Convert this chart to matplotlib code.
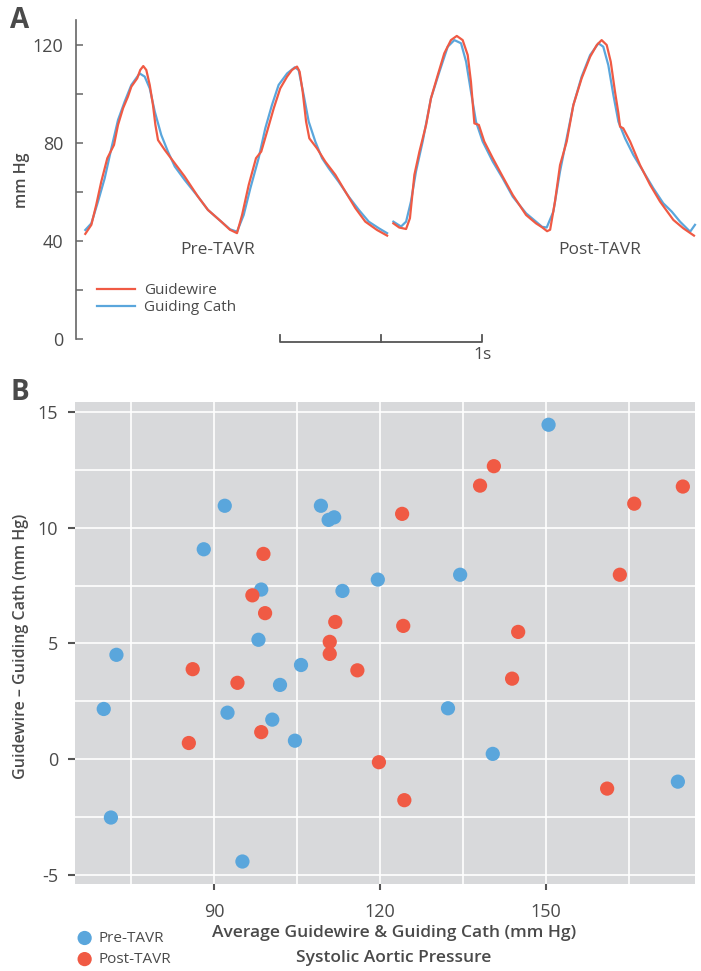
import numpy as np
import matplotlib
matplotlib.use('Agg')
import matplotlib.pyplot as plt
from matplotlib.lines import Line2D

plt.rcParams['font.family'] = ['Open Sans', 'DejaVu Sans']
plt.rcParams['axes.unicode_minus'] = False

# ---- Panel A: pressure traces (time in s, pressure in mm Hg) ----
pre_wire_t = [0.046, 0.076, 0.100, 0.125, 0.155, 0.188, 0.208, 0.233, 0.257, 0.274,
              0.303, 0.318, 0.333, 0.348, 0.365, 0.381, 0.393, 0.406, 0.439, 0.489,
              0.538, 0.604, 0.653, 0.719, 0.762, 0.797, 0.822, 0.855, 0.891, 0.917,
              0.946, 0.979, 1.011, 1.045, 1.069, 1.094, 1.107, 1.122, 1.139, 1.155,
              1.193, 1.234, 1.284, 1.333, 1.383, 1.432, 1.490, 1.540]
pre_wire_p = [42.9, 46.6, 54.7, 64.2, 73.8, 79.2, 87.4, 94.2, 98.9, 103.0,
              106.4, 109.8, 111.4, 109.8, 103.7, 95.5, 87.4, 81.2, 77.2, 71.7,
              66.3, 58.1, 52.7, 47.9, 44.6, 43.2, 50.6, 62.9, 73.8, 76.5,
              84.7, 94.2, 102.3, 107.1, 109.8, 111.2, 109.1, 101.0, 88.7, 81.9,
              77.8, 72.4, 67.0, 60.2, 53.4, 47.9, 44.5, 42.2]

pre_cath_t = [0.046, 0.076, 0.109, 0.142, 0.175, 0.208, 0.241, 0.274, 0.315, 0.340,
              0.365, 0.390, 0.422, 0.455, 0.489, 0.538, 0.604, 0.653, 0.719, 0.762,
              0.797, 0.830, 0.863, 0.904, 0.937, 0.970, 1.003, 1.045, 1.083, 1.102,
              1.127, 1.152, 1.185, 1.218, 1.251, 1.300, 1.350, 1.400, 1.449, 1.499,
              1.540]
pre_cath_p = [44.5, 47.2, 56.1, 65.6, 77.8, 89.4, 96.9, 103.7, 108.4, 107.1,
              102.3, 92.8, 83.3, 76.5, 70.4, 64.9, 58.1, 52.7, 47.9, 44.8,
              43.8, 50.6, 61.5, 73.8, 86.0, 95.5, 103.7, 108.4, 110.9, 109.8,
              99.6, 88.7, 80.5, 73.8, 69.7, 64.2, 58.1, 52.7, 47.9, 45.2,
              43.2]

post_wire_t = [1.571, 1.600, 1.634, 1.653, 1.675, 1.700, 1.733, 1.757, 1.791, 1.823,
               1.856, 1.885, 1.914, 1.939, 1.955, 1.972, 1.994, 2.021, 2.063, 2.112,
               2.162, 2.228, 2.277, 2.307, 2.332, 2.347, 2.371, 2.396, 2.429, 2.462,
               2.503, 2.545, 2.578, 2.602, 2.627, 2.647, 2.668, 2.685, 2.693, 2.709,
               2.743, 2.792, 2.842, 2.891, 2.957, 3.006, 3.059]
post_wire_p = [47.2, 45.5, 44.9, 49.3, 67.0, 76.5, 87.4, 98.2, 107.8, 116.6,
               122.0, 123.7, 122.0, 115.9, 105.0, 88.0, 87.4, 80.6, 73.8, 66.3,
               58.8, 50.6, 47.2, 45.6, 44.0, 44.6, 56.1, 71.0, 80.6, 95.5,
               106.4, 115.2, 120.0, 122.0, 120.0, 113.2, 101.0, 92.1, 86.7, 86.0,
               80.6, 71.0, 62.9, 56.1, 48.6, 45.2, 42.2]

post_cath_t = [1.571, 1.609, 1.634, 1.658, 1.683, 1.716, 1.757, 1.799, 1.840, 1.873,
               1.906, 1.931, 1.955, 1.980, 2.013, 2.063, 2.112, 2.162, 2.228, 2.277,
               2.307, 2.330, 2.363, 2.396, 2.429, 2.462, 2.503, 2.545, 2.586, 2.610,
               2.635, 2.660, 2.685, 2.718, 2.759, 2.808, 2.858, 2.907, 2.949, 2.990,
               3.040, 3.064]
post_cath_p = [47.9, 45.9, 47.9, 56.1, 68.4, 80.6, 98.2, 109.1, 119.3, 122.0,
               120.7, 113.2, 101.0, 88.7, 80.6, 72.4, 65.6, 58.1, 51.3, 47.9,
               45.8, 45.5, 52.0, 68.4, 82.0, 95.5, 107.1, 115.9, 120.7, 119.3,
               111.8, 99.6, 88.7, 81.9, 75.1, 68.4, 61.5, 55.4, 52.0, 47.9,
               43.8, 46.6]

# ---- Panel B: scatter ----
pre_x = [91.9, 109.3, 110.7, 111.7, 88.1, 119.6, 98.5, 113.2, 98.0, 150.5, 134.5, 72.3,
         105.7, 101.9, 70.0, 92.4, 100.5, 104.6, 71.3, 95.1, 132.3, 140.4, 173.9]
pre_y = [10.95, 10.95, 10.34, 10.45, 9.07, 7.76, 7.33, 7.27, 5.16, 14.45, 7.97, 4.51,
         4.07, 3.21, 2.17, 2.01, 1.71, 0.80, -2.52, -4.42, 2.20, 0.23, -0.97]
post_x = [98.9, 96.9, 99.2, 111.9, 140.6, 138.1, 124.0, 174.8, 166.0, 163.4, 124.2, 145.0,
          110.9, 110.9, 86.1, 115.9, 94.2, 143.9, 98.5, 85.4, 119.8, 124.4, 161.1]
post_y = [8.87, 7.08, 6.31, 5.93, 12.66, 11.82, 10.60, 11.78, 11.04, 7.97, 5.76, 5.50,
          5.07, 4.55, 3.89, 3.84, 3.30, 3.48, 1.17, 0.70, -0.13, -1.77, -1.27]

RED = '#F05A44'
BLUE = '#5AA6DC'
TXT = '#4A4A4A'
W, H = 701, 971

fig = plt.figure(figsize=(W / 100, H / 100), dpi=100)

# ================= Panel A =================
axA = fig.add_axes([76 / W, 1 - 339 / H, (697 - 76) / W, (339 - 20.5) / H])
for t, p, c in [(pre_cath_t, pre_cath_p, BLUE), (pre_wire_t, pre_wire_p, RED),
                (post_cath_t, post_cath_p, BLUE), (post_wire_t, post_wire_p, RED)]:
    axA.plot(t, p, color=c, lw=1.6, solid_joinstyle='round')
axA.set_xlim(0, 3.074)
axA.set_ylim(0, 130)
for s in ['top', 'right', 'bottom']:
    axA.spines[s].set_visible(False)
axA.spines['left'].set_color('#666666')
axA.spines['left'].set_linewidth(1.2)
axA.set_xticks([])
axA.set_yticks([0, 40, 80, 120])
axA.set_yticks([20, 60, 100], minor=True)
axA.tick_params(axis='y', which='both', direction='in', length=5, width=1.1,
                color='#666666', labelsize=13, labelcolor=TXT, pad=9)
axA.set_ylabel('mm Hg', fontsize=11.5, fontweight='semibold', color=TXT)
axA.yaxis.set_label_coords(-0.074, 0.5)

axA.text(0.703, 36.3, 'Pre-TAVR', ha='center', va='center', fontsize=12.5, color=TXT)
axA.text(2.594, 36.3, 'Post-TAVR', ha='center', va='center', fontsize=12.5, color=TXT)

# scale bar: 1 s
sb0, sb1 = 1.010, 2.010
axA.plot([sb0, sb0, sb1, sb1], [1.6, -1.35, -1.35, 1.6], color='#555555', lw=1.3, clip_on=False)
axA.plot([(sb0 + sb1) / 2] * 2, [1.6, -1.35], color='#555555', lw=1.3, clip_on=False)
axA.text(sb1, -6.5, '1s', ha='center', va='center', fontsize=12.5, color=TXT)

legA = [Line2D([], [], color=RED, lw=1.6), Line2D([], [], color=BLUE, lw=1.6)]
axA.legend(legA, ['Guidewire', 'Guiding Cath'], loc='upper left',
           bbox_to_anchor=(97 / W, 1 - 283 / H), bbox_transform=fig.transFigure,
           frameon=False, fontsize=11, handlelength=2.5, handletextpad=0.6,
           labelspacing=0.15, borderpad=0, borderaxespad=0, labelcolor=TXT)

fig.text(20 / W, 1 - 21 / H, 'A', fontsize=20, fontweight='bold', color=TXT,
         ha='center', va='center')

# ================= Panel B =================
axB = fig.add_axes([75 / W, 1 - 883.5 / H, 620 / W, (883.5 - 402.3) / H])
axB.set_facecolor('#D8D9DB')
axB.set_xlim(64.8, 177.0)
axB.set_ylim(-5.37, 15.42)
axB.set_xticks([75, 90, 105, 120, 135, 150, 165], minor=True)
axB.set_xticks([90, 120, 150])
axB.set_yticks(np.arange(-5, 15.1, 2.5), minor=True)
axB.set_yticks([-5, 0, 5, 10, 15])
axB.grid(True, which='both', color='white', lw=1.2)
axB.set_axisbelow(True)
for s in axB.spines.values():
    s.set_visible(False)
axB.tick_params(which='minor', length=0)
axB.tick_params(axis='y', which='major', length=5, width=1.5, color='#555555',
                labelsize=13, labelcolor=TXT, pad=7)
axB.tick_params(axis='x', which='major', length=4, width=1.5, color='#555555',
                labelsize=13, labelcolor=TXT, pad=10)

axB.scatter(pre_x, pre_y, s=105, color=BLUE, edgecolors='none', zorder=3, label='Pre-TAVR')
axB.scatter(post_x, post_y, s=105, color=RED, edgecolors='none', zorder=4, label='Post-TAVR')

axB.legend(loc='upper left', bbox_to_anchor=(77 / W, 1 - 931 / H),
           bbox_transform=fig.transFigure, frameon=False, fontsize=11,
           handlelength=1.0, handletextpad=0.4, labelspacing=0.4,
           borderpad=0, borderaxespad=0, labelcolor=TXT, scatterpoints=1)

fig.text(394 / W, 1 - 933 / H, 'Average Guidewire & Guiding Cath (mm Hg)', ha='center',
         va='center', fontsize=12.5, fontweight='semibold', color=TXT)
fig.text(394 / W, 1 - 958 / H, 'Systolic Aortic Pressure', ha='center',
         va='center', fontsize=12.5, fontweight='semibold', color=TXT)
fig.text(21 / W, 1 - 646 / H, 'Guidewire \u2013 Guiding Cath (mm Hg)', rotation=90,
         ha='center', va='center', fontsize=11.5, fontweight='semibold', color=TXT)
fig.text(20 / W, 1 - 392 / H, 'B', fontsize=20, fontweight='bold', color=TXT,
         ha='center', va='center')

fig.savefig('out.png', dpi=100)
